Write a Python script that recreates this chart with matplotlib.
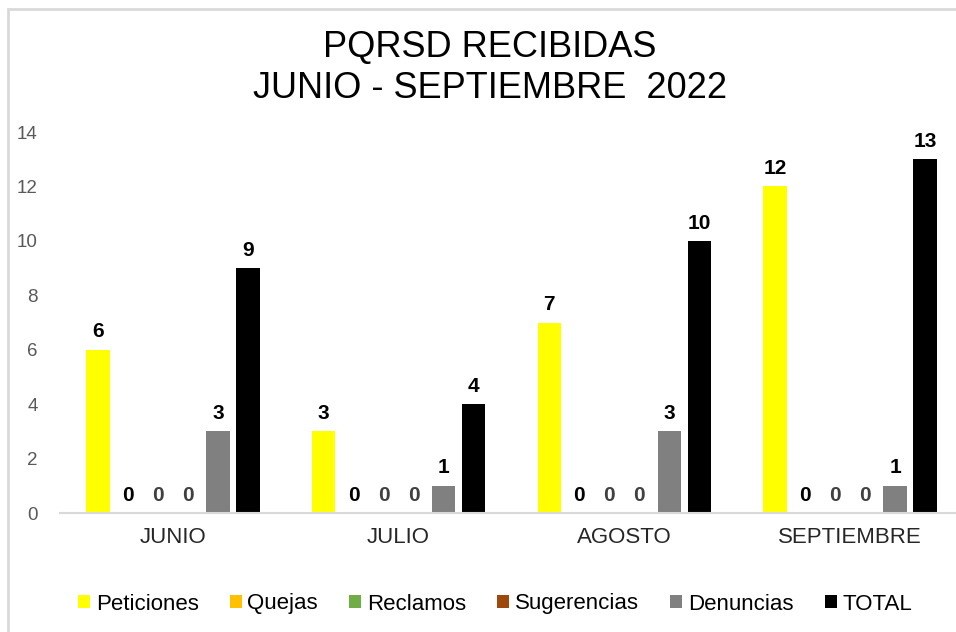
import numpy as np
import matplotlib.pyplot as plt
from matplotlib.patches import Rectangle

# --- data ---
months = ["JUNIO", "JULIO", "AGOSTO", "SEPTIEMBRE"]
series = ["Peticiones", "Quejas", "Reclamos", "Sugerencias", "Denuncias", "TOTAL"]
peticiones = [6, 3, 7, 12]
quejas = [0, 0, 0, 0]
reclamos = [0, 0, 0, 0]
sugerencias = [0, 0, 0, 0]
denuncias = [3, 1, 3, 1]
total = [9, 4, 10, 13]

values = [peticiones, quejas, reclamos, sugerencias, denuncias, total]
colors = ["#FFFF00", "#FFC000", "#70AD47", "#9E480E", "#808080", "#000000"]
label_colors = ["black", "black", "#404040", "#404040", "black", "black"]

plt.rcParams["font.family"] = ["Liberation Sans", "DejaVu Sans"]

fig = plt.figure(figsize=(9.56, 6.32), dpi=100)
W, H = 956, 632

# light chart frame
fig.patches.append(Rectangle((8 / W, -0.1), 1.2, 1 - 9 / H + 0.1,
                             transform=fig.transFigure, fill=False,
                             edgecolor="#D9D9D9", linewidth=2))

ax = fig.add_axes([60 / W, (H - 513) / H, 903 / W, 381 / H])

x = np.arange(len(months))
pitch = 0.133
width = 0.104
for i, (name, vals) in enumerate(zip(series, values)):
    pos = x + (i - 2.5) * pitch
    bars = ax.bar(pos, vals, width=width, color=colors[i], label=name)
    for b, v in zip(bars, vals):
        ax.annotate(str(v), (b.get_x() + b.get_width() / 2, v),
                    xytext=(0, 6), textcoords="offset points",
                    ha="center", va="bottom", fontsize=15,
                    fontweight="bold", color=label_colors[i])

ax.set_xlim(-0.5, 3.5)
ax.set_ylim(0, 14)
ax.set_yticks(range(0, 15, 2))
ax.set_xticks(x)
ax.set_xticklabels(months)
ax.tick_params(axis="y", length=0, pad=16, labelsize=13.5, labelcolor="#595959")
ax.tick_params(axis="x", length=0, pad=10, labelsize=16, labelcolor="#262626")
for s in ["top", "right", "left"]:
    ax.spines[s].set_visible(False)
ax.spines["bottom"].set_color("#D9D9D9")
ax.spines["bottom"].set_linewidth(1.5)

tx = 490 / W
fig.text(tx, 1 - 47 / H, "PQRSD RECIBIDAS", ha="center", va="center",
         fontsize=26)
fig.text(tx, 1 - 88 / H, "JUNIO - SEPTIEMBRE  2022", ha="center", va="center",
         fontsize=26)

fig.legend(loc="center", bbox_to_anchor=(495 / W, 1 - 604 / H), ncol=6,
           frameon=False, handlelength=0.55, handleheight=0.55,
           handletextpad=0.25, columnspacing=1.4,
           prop={"size": 16})

fig.savefig("out.png", dpi=100)
